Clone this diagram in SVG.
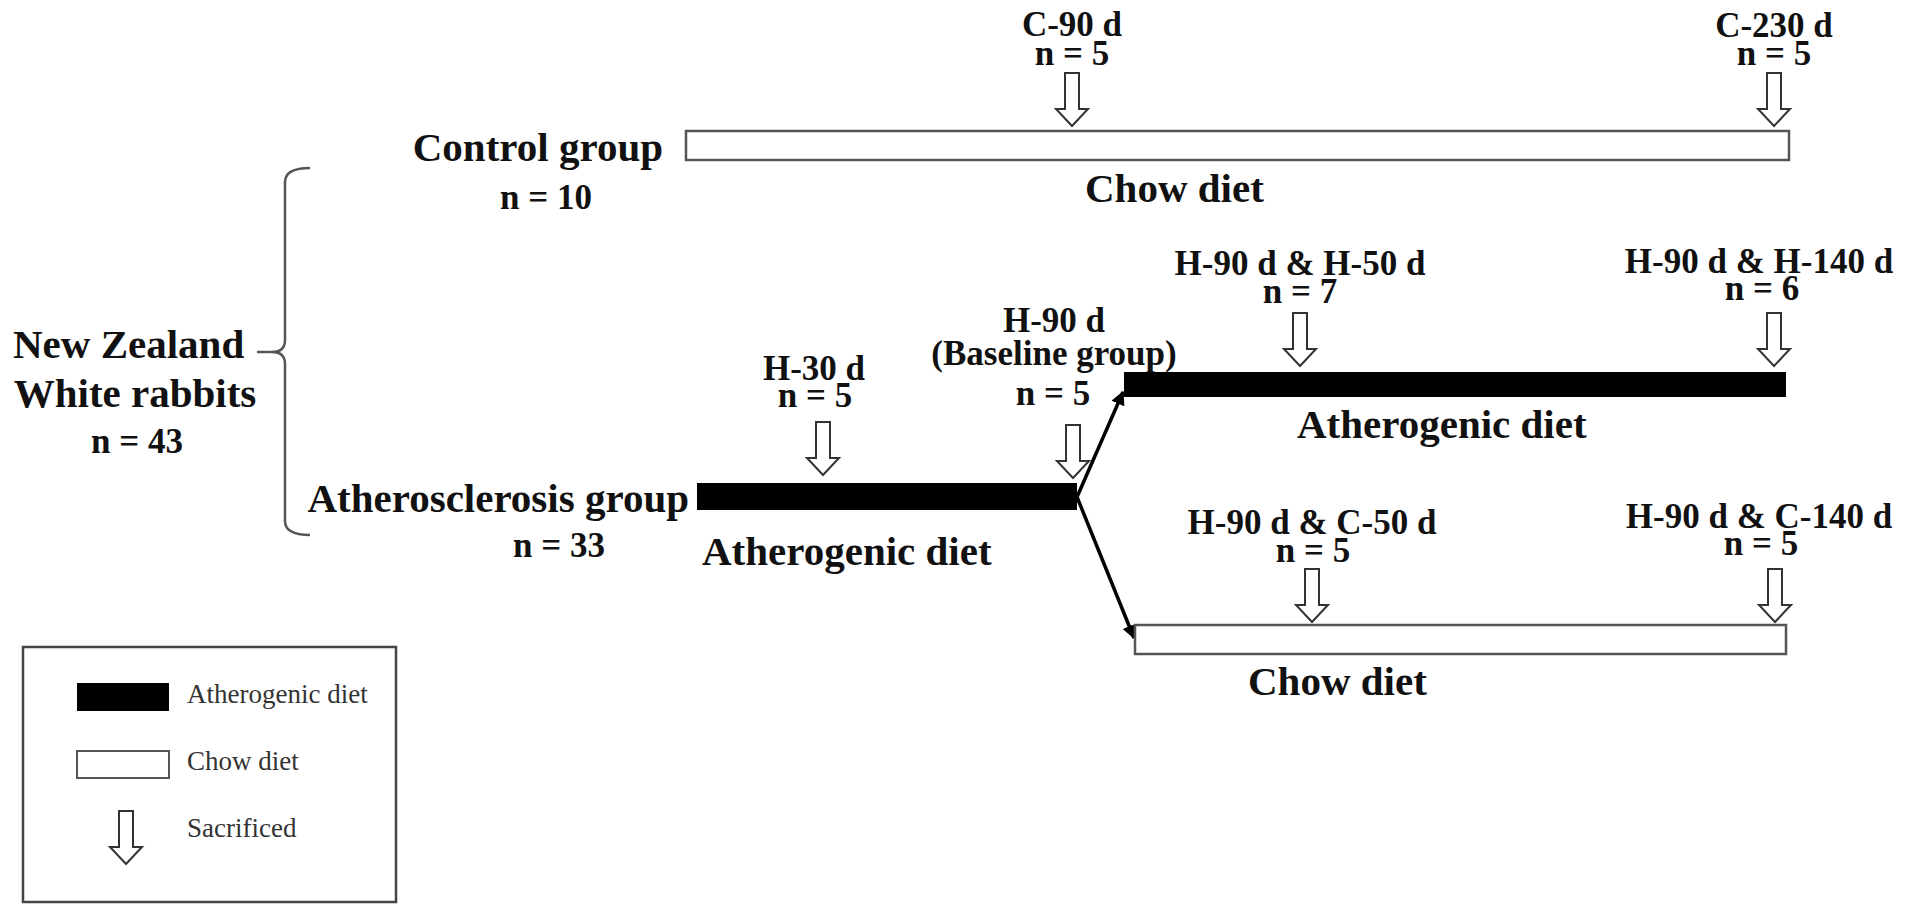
<svg xmlns="http://www.w3.org/2000/svg" width="1913" height="917" viewBox="0 0 1913 917">
<defs>
<style>
.t{font-family:"Liberation Serif","Times New Roman",serif;font-weight:bold;fill:#111}
.big{font-size:41px}
.sm{font-size:35px}
.leg{font-family:"Liberation Serif","Times New Roman",serif;font-size:27px;fill:#333}
.m{text-anchor:middle}
.e{text-anchor:end}
.chow{fill:#fff;stroke:#555;stroke-width:2.5}
.ath{fill:#000}
.sac{fill:#fff;stroke:#333;stroke-width:2;stroke-linejoin:miter}
.conn{stroke:#000;stroke-width:3.5;fill:none}
</style>
<path id="sa" d="M-7,0 L7,0 L7,36 L16,36 L0,53 L-16,36 L-7,36 Z"/>
<marker id="ah" viewBox="0 0 10 10" refX="9" refY="5" markerWidth="4" markerHeight="4" orient="auto" markerUnits="strokeWidth">
<path d="M0,0 L10,5 L0,10 Z" fill="#000"/>
</marker>
</defs>
<rect width="1913" height="917" fill="#fff"/>

<g id="root">
<text class="t big" x="13" y="358">New Zealand</text>
<text class="t big m" x="135" y="407">White rabbits</text>
<text class="t sm m" x="137" y="453">n = 43</text>
<path d="M310,168 Q285,168 285,182 L285,340 Q285,352 272,352 L257,352 M272,352 Q285,352 285,364 L285,521 Q285,535 310,535" fill="none" stroke="#555" stroke-width="2.5"/>
</g>

<g id="control-group">
<text class="t big e" x="663" y="161">Control group</text>
<text class="t sm m" x="546" y="209">n = 10</text>
<rect class="chow" x="686" y="131" width="1103" height="29"/>
<text class="t big" x="1085" y="202">Chow diet</text>
</g>

<g id="c90">
<text class="t sm m" x="1072" y="36">C-90 d</text>
<text class="t sm m" x="1072" y="65">n = 5</text>
<use href="#sa" class="sac" x="1072" y="73"/>
</g>
<g id="c230">
<text class="t sm m" x="1774" y="37">C-230 d</text>
<text class="t sm m" x="1774" y="65">n = 5</text>
<use href="#sa" class="sac" x="1774" y="73"/>
</g>

<g id="atherosclerosis-group">
<text class="t big e" x="689" y="512">Atherosclerosis group</text>
<text class="t sm m" x="559" y="557">n = 33</text>
<rect class="ath" x="697" y="483" width="380" height="27"/>
<text class="t big" x="702" y="565">Atherogenic diet</text>
</g>

<g id="h30">
<text class="t sm m" x="814" y="380">H-30 d</text>
<text class="t sm m" x="815" y="407">n = 5</text>
<use href="#sa" class="sac" x="823" y="422"/>
</g>
<g id="baseline">
<text class="t sm m" x="1054" y="332">H-90 d</text>
<text class="t sm m" x="1054" y="365">(Baseline group)</text>
<text class="t sm m" x="1053" y="405">n = 5</text>
<use href="#sa" class="sac" x="1073" y="425"/>
</g>

<g id="connectors">
<line class="conn" x1="1077" y1="497" x2="1123" y2="392" marker-end="url(#ah)"/>
<line class="conn" x1="1077" y1="497" x2="1134" y2="638" marker-end="url(#ah)"/>
</g>

<g id="ath-continued">
<rect class="ath" x="1124" y="372" width="662" height="25"/>
<text class="t big" x="1297" y="438">Atherogenic diet</text>
</g>
<g id="h50">
<text class="t sm m" x="1300" y="275">H-90 d &amp; H-50 d</text>
<text class="t sm m" x="1300" y="303">n = 7</text>
<use href="#sa" class="sac" x="1300" y="313"/>
</g>
<g id="h140">
<text class="t sm m" x="1759" y="273">H-90 d &amp; H-140 d</text>
<text class="t sm m" x="1762" y="300">n = 6</text>
<use href="#sa" class="sac" x="1774" y="313"/>
</g>

<g id="chow-switch">
<rect class="chow" x="1135" y="625" width="651" height="29"/>
<text class="t big" x="1248" y="695">Chow diet</text>
</g>
<g id="c50">
<text class="t sm m" x="1312" y="534">H-90 d &amp; C-50 d</text>
<text class="t sm m" x="1313" y="562">n = 5</text>
<use href="#sa" class="sac" x="1312" y="569"/>
</g>
<g id="c140">
<text class="t sm m" x="1759" y="528">H-90 d &amp; C-140 d</text>
<text class="t sm m" x="1761" y="555">n = 5</text>
<use href="#sa" class="sac" x="1775" y="569"/>
</g>

<g id="legend">
<rect x="23" y="647" width="373" height="255" fill="#fff" stroke="#444" stroke-width="2.5"/>
<rect x="77" y="683" width="92" height="28" fill="#000"/>
<text class="leg" x="187" y="703">Atherogenic diet</text>
<rect x="77" y="751" width="92" height="27" fill="#fff" stroke="#555" stroke-width="2"/>
<text class="leg" x="187" y="770">Chow diet</text>
<use href="#sa" class="sac" x="126" y="811"/>
<text class="leg" x="187" y="837">Sacrificed</text>
</g>
</svg>
